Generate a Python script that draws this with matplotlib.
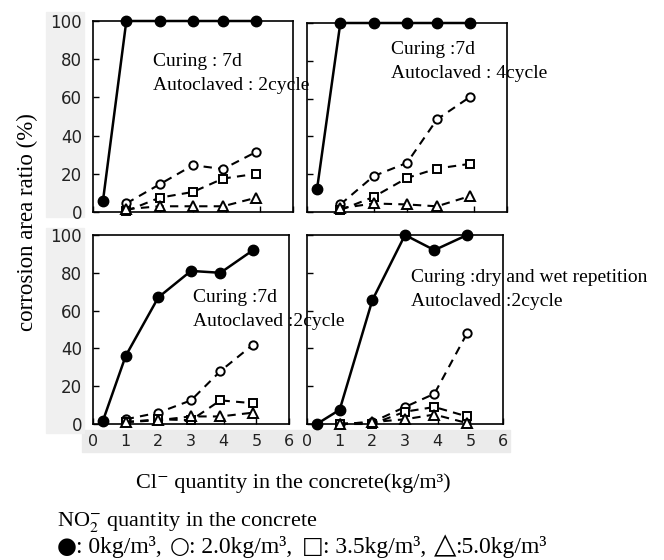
import numpy as np
import matplotlib
matplotlib.use('Agg')
import matplotlib.pyplot as plt
from matplotlib.patches import Rectangle

plt.rcParams['mathtext.fontset'] = 'stix'

# Cl- quantity (x) for each panel
X_FILLED = [0.3, 1.0, 2.0, 3.0, 3.9, 4.9]
X_OPEN = [1.0, 2.0, 3.0, 3.9, 4.9]

# panel (a): curing 7d, autoclaved 2 cycle
A_Filled = [6, 100, 100, 100, 100, 100]
A_Circle = [4.5, 14.5, 24.5, 22.5, 31.5]
A_Square = [0.5, 7.5, 10.5, 17.5, 20]
A_Triangle = [1.5, 3, 3, 3, 7.5]

# panel (b): curing 7d, autoclaved 4 cycle
B_Filled = [12, 100, 100, 100, 100, 100]
B_Circle = [4, 19, 26, 49, 61]
B_Square = [1, 8, 18, 23, 25.5]
B_Triangle = [2, 4.5, 4, 3, 8.5]

# panel (c): curing 7d, autoclaved 2 cycle
C_Filled = [1.5, 36, 67, 81, 80, 92]
C_Circle = [2.5, 6, 12.5, 28, 42]
C_Square = [1, 2.5, 2, 12.5, 11]
C_Triangle = [1, 2, 4, 4, 6]

# panel (d): dry and wet repetition, autoclaved 2 cycle
D_Filled = [0, 7.5, 65.5, 100, 92, 100]
D_Circle = [0, 1, 9, 16, 48]
D_Square = [0, 0, 6.5, 9, 4]
D_Triangle = [0, 1, 2.5, 5, 0.5]

Labels = [['Curing : 7d', 'Autoclaved : 2cycle'],
          ['Curing :7d', 'Autoclaved : 4cycle'],
          ['Curing :7d', 'Autoclaved :2cycle'],
          ['Curing :dry and wet repetition', 'Autoclaved :2cycle']]

Panels = [[A_Filled, A_Circle, A_Square, A_Triangle],
          [B_Filled, B_Circle, B_Square, B_Triangle],
          [C_Filled, C_Circle, C_Square, C_Triangle],
          [D_Filled, D_Circle, D_Square, D_Triangle]]

Legend_Symbols = ['\u25cf', '\u25cb', '\u25a1', '\u25b3']
Legend_Texts = [': 0kg/m\u00b3,', ': 2.0kg/m\u00b3,', ': 3.5kg/m\u00b3,', ':5.0kg/m\u00b3']

W, H = 664, 560
fig = plt.figure(figsize=(W/100, H/100), dpi=100)

# axes boxes in pixels: left, top, right, bottom
Boxes = [(93, 21, 293, 212), (307, 23, 507, 212),
         (93, 235, 289, 424), (307, 235, 503, 424)]
# label positions (pixels, left / centre of first line)
TextPos = [(153, 61), (391, 50), (193, 297), (411, 277)]
# legend symbol left edges (pixels)
SymX = [57, 170, 302, 434]

def px(b):
    l, t, r, bt = b
    return [l/W, 1-bt/H, (r-l)/W, (bt-t)/H]

# grey scan patches behind tick labels
for (x0, y0, w, h) in [(82, 430, 218, 22), (300, 430, 210, 22)]:
    fig.patches.append(Rectangle((x0/W, 1-(y0+h)/H), w/W, h/H, transform=fig.transFigure,
                                 color='#ebebeb', zorder=-5))
for (x0, y0, w, h) in [(46, 12, 38, 205), (46, 228, 38, 205)]:
    fig.patches.append(Rectangle((x0/W, 1-(y0+h)/H), w/W, h/H, transform=fig.transFigure,
                                 color='#f0f0f0', zorder=-5))

for i in range(4):
    ax = fig.add_axes(px(Boxes[i]))
    ax.patch.set_alpha(0)
    f, c, s, t = Panels[i]
    ax.plot(X_FILLED, f, '-', color='black', lw=1.8, marker='o', ms=7.5, clip_on=False, zorder=5)
    ax.plot(X_OPEN, c, '--', color='black', lw=1.5, dashes=(4, 3), marker='o', ms=6,
            mfc='white', mew=1.4, clip_on=False, zorder=4)
    ax.plot(X_OPEN, s, '--', color='black', lw=1.5, dashes=(4, 3), marker='s', ms=6,
            mfc='white', mew=1.4, clip_on=False, zorder=4)
    ax.plot(X_OPEN, t, '--', color='black', lw=1.5, dashes=(4, 3), marker='^', ms=6.5,
            mfc='white', mew=1.4, clip_on=False, zorder=4)
    ax.set_xlim(0, 6)
    ax.set_ylim(0, 100)
    ax.set_xticks(range(0, 7))
    ax.set_yticks(range(0, 101, 20))
    ax.tick_params(direction='in', length=4, width=1)
    ax.tick_params(axis='y', pad=8, labelsize=12)
    ax.tick_params(axis='x', pad=7, labelsize=11.5)
    for sp in ax.spines.values():
        sp.set_linewidth(1.2)
    if i % 2 == 1:
        ax.set_yticklabels([])
    else:
        ax.set_yticklabels([str(v) for v in range(0, 101, 20)], family='DejaVu Sans', color='#222222')
    if i < 2:
        ax.set_xticklabels([])
    else:
        ax.set_xticklabels([str(v) for v in range(0, 7)], family='DejaVu Sans', color='#222222')
    tx, ty = TextPos[i]
    fig.text(tx/W, 1-ty/H, Labels[i][0], family='Liberation Serif', fontsize=14, va='center')
    fig.text(tx/W, 1-(ty+24)/H, Labels[i][1], family='Liberation Serif', fontsize=14, va='center')

fig.text(27/W, 1-222/H, 'corrosion area ratio (%)', family='Liberation Serif', fontsize=16.5,
         rotation=90, ha='center', va='center')
fig.text(293/W, 1-483/H, 'Cl\u207b quantity in the concrete(kg/m\u00b3)',
         family=['Liberation Serif', 'DejaVu Serif'], fontsize=16, ha='center', va='center')
fig.text(57/W, 1-522/H, r'NO$_{2}^{-}$ quantity in the concrete',
         family='Liberation Serif', fontsize=16, ha='left', va='center')

# second legend line, symbols in a font with bigger shapes
r = fig.canvas.get_renderer()
base = 1 - 553/H
for k in range(4):
    size = 21 if k == 3 else 16.5
    t1 = fig.text(SymX[k]/W, base, Legend_Symbols[k], family='DejaVu Sans', fontsize=size,
                  ha='left', va='baseline')
    x = SymX[k] + t1.get_window_extent(r).width - 1
    fig.text(x/W, base, Legend_Texts[k], family='Liberation Serif', fontsize=17,
             ha='left', va='baseline')

fig.savefig('out.png', dpi=100)
